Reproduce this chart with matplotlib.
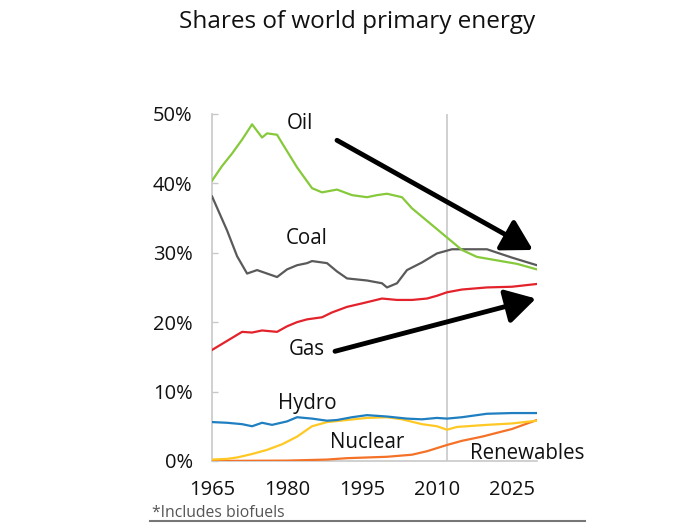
import matplotlib
matplotlib.use("Agg")
import matplotlib.pyplot as plt

plt.rcParams['font.family'] = ['Open Sans', 'DejaVu Sans']

title = "Shares of world primary energy"
footnote = "*Includes biofuels"

oil_years = [1965, 1967, 1969, 1971, 1973, 1975, 1976, 1978, 1979, 1982, 1985, 1987, 1990, 1993, 1996, 1998,
             2000, 2003, 2005, 2007, 2009, 2012, 2015, 2018, 2022, 2026, 2030]
oil_vals = [40.4, 42.5, 44.3, 46.3, 48.5, 46.6, 47.2, 47.0, 45.8, 42.3, 39.3, 38.7, 39.1, 38.3, 38.0, 38.3,
            38.5, 38.0, 36.4, 35.2, 34.0, 32.2, 30.4, 29.4, 28.9, 28.4, 27.6]

coal_years = [1965, 1968, 1970, 1972, 1974, 1976, 1978, 1980, 1982, 1984, 1985, 1988, 1990, 1992, 1996, 1999,
              2000, 2002, 2004, 2007, 2010, 2013, 2016, 2020, 2025, 2030]
coal_vals = [38.1, 33.2, 29.5, 27.0, 27.5, 27.0, 26.5, 27.6, 28.2, 28.5, 28.8, 28.5, 27.3, 26.3, 26.0, 25.6,
             25.0, 25.6, 27.5, 28.6, 29.9, 30.5, 30.5, 30.5, 29.3, 28.2]

gas_years = [1965, 1968, 1971, 1973, 1975, 1978, 1980, 1982, 1984, 1987, 1989, 1992, 1995, 1999, 2002, 2005,
             2008, 2010, 2012, 2015, 2020, 2025, 2030]
gas_vals = [16.0, 17.3, 18.6, 18.5, 18.8, 18.6, 19.4, 20.0, 20.4, 20.7, 21.4, 22.2, 22.7, 23.4, 23.2, 23.2,
            23.4, 23.8, 24.3, 24.7, 25.0, 25.1, 25.5]

hydro_years = [1965, 1968, 1971, 1973, 1975, 1977, 1980, 1982, 1985, 1988, 1990, 1993, 1996, 2000, 2004, 2007,
               2010, 2012, 2015, 2020, 2025, 2030]
hydro_vals = [5.6, 5.5, 5.3, 5.0, 5.5, 5.2, 5.7, 6.3, 6.1, 5.8, 5.9, 6.3, 6.6, 6.4, 6.1, 6.0,
              6.2, 6.1, 6.3, 6.8, 6.9, 6.9]

nuclear_years = [1965, 1968, 1970, 1973, 1976, 1979, 1982, 1985, 1988, 1992, 1996, 2000, 2003, 2007, 2010,
                 2012, 2014, 2020, 2025, 2030]
nuclear_vals = [0.2, 0.3, 0.5, 1.0, 1.6, 2.4, 3.5, 5.0, 5.6, 5.9, 6.2, 6.3, 6.0, 5.3, 5.0,
                4.5, 4.9, 5.2, 5.4, 5.8]

ren_years = [1965, 1980, 1988, 1992, 1996, 2000, 2005, 2008, 2012, 2015, 2019, 2025, 2030]
ren_vals = [0.0, 0.05, 0.2, 0.4, 0.5, 0.6, 0.9, 1.4, 2.3, 2.9, 3.5, 4.6, 5.9]

series = [
    ("Oil", oil_years, oil_vals, "#86C93A"),
    ("Coal", coal_years, coal_vals, "#5A5A5A"),
    ("Gas", gas_years, gas_vals, "#E3222B"),
    ("Hydro", hydro_years, hydro_vals, "#1F7FC0"),
    ("Nuclear", nuclear_years, nuclear_vals, "#FFC824"),
    ("Renewables", ren_years, ren_vals, "#F47228"),
]

labels = {
    "Oil": (1982.6, 48.6),
    "Coal": (1984.0, 32.1),
    "Gas": (1984.0, 16.0),
    "Hydro": (1984.0, 8.3),
    "Nuclear": (1996.0, 2.7),
    "Renewables": (2028.0, 1.1),
}

xticks = [1965, 1980, 1995, 2010, 2025]
yticks = [0, 10, 20, 30, 40, 50]
ytick_labels = ["0%", "10%", "20%", "30%", "40%", "50%"]
forecast_year = 2012

oil_arrow = ((1990.0, 46.2), (2029.2, 30.4))
gas_arrow = ((1989.6, 15.8), (2029.8, 23.4))

fig = plt.figure(figsize=(7, 5.25), dpi=100)
ax = fig.add_axes([0.303, 0.122, 0.464, 0.661])

ax.axvline(forecast_year, color="#C8C8C8", lw=1.2, zorder=1)

order = ["Renewables", "Nuclear", "Hydro", "Gas", "Coal", "Oil"]
sd = {s[0]: s for s in series}
for name in order:
    _, xs, ys, c = sd[name]
    ax.plot(xs, ys, color=c, lw=1.6, zorder=3, solid_joinstyle="round")

for name, (lx, ly) in labels.items():
    ax.text(lx, ly, name, fontsize=14.8, ha="center", va="center", color="#111111", zorder=5)

for (s, e) in (oil_arrow, gas_arrow):
    ax.annotate("", xy=e, xytext=s,
                arrowprops=dict(arrowstyle="-|>,head_length=1.3,head_width=0.75",
                                color="black", lw=3.5, mutation_scale=14, shrinkA=0, shrinkB=0),
                zorder=6)

ax.set_xlim(1965, 2030)
ax.set_ylim(0, 50)
ax.set_xticks(xticks)
ax.set_xticklabels([str(x) for x in xticks])
ax.set_yticks(yticks)
ax.set_yticklabels(ytick_labels)
ax.tick_params(axis="y", direction="in", length=4, width=1, color="#C8C8C8", pad=14, labelsize=14.5)
ax.tick_params(axis="x", length=0, pad=13.5, labelsize=14.5)
for lab in ax.get_xticklabels() + ax.get_yticklabels():
    lab.set_color("#111111")

for sp in ["top", "right"]:
    ax.spines[sp].set_visible(False)
ax.spines["left"].set_color("#C8C8C8")
ax.spines["left"].set_linewidth(1.2)
ax.spines["bottom"].set_color("#C8C8C8")
ax.spines["bottom"].set_linewidth(1.2)

fig.text(0.51, 0.958, title, fontsize=17.5, ha="center", va="center", color="#111111")
fig.text(0.217, 0.022, footnote, fontsize=11.3, ha="left", va="center", color="#555555")
fig.add_artist(plt.Line2D([0.214, 0.836], [0.007, 0.007], color="#777777", lw=1.5))

fig.savefig("out.png", dpi=100)
